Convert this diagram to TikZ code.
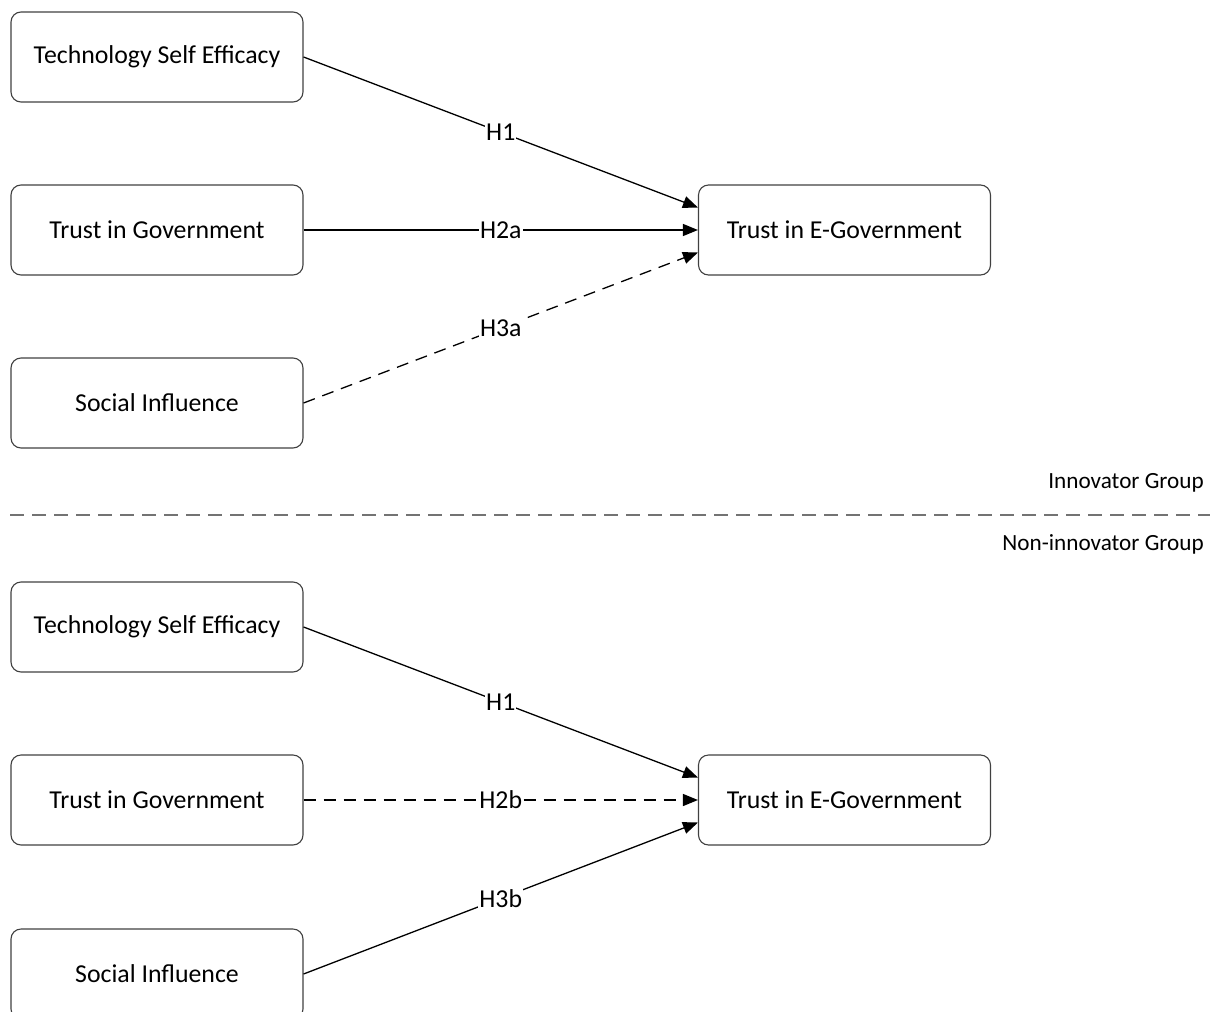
\documentclass[tikz,border=0pt]{standalone}
\usepackage{fontspec}
\setmainfont{Carlito}
\usetikzlibrary{arrows.meta,calc}
\begin{document}
\begin{tikzpicture}[x=1pt,y=-1pt,
  box/.style={draw=black!75,line width=1.1pt,rounded corners=10pt,minimum width=292pt,minimum height=90pt,align=center,inner sep=0pt,font=\fontsize{25.8}{30}\selectfont},
  lbl/.style={fill=white,inner sep=1pt,font=\fontsize{25.8}{30}\selectfont},
  grp/.style={anchor=east,inner sep=0pt,font=\fontsize{23.2}{28}\selectfont},
  link/.style={line width=1.3pt,-{Triangle[length=15pt,width=12pt]}},
  dsh/.style={dash pattern=on 12pt off 8pt}]
\useasboundingbox (0,0) rectangle (1213,1012);
\clip (0,0) rectangle (1213,1012);
% top group
\node[box] (tse1) at (157,57) {Technology Self Efficacy};
\node[box] (tig1) at (157,230) {Trust in Government};
\node[box] (si1) at (157,403) {Social Influence};
\node[box] (teg1) at (844.5,230) {Trust in E-Government};
\draw[link] (tse1.east) -- node[lbl]{H1} ($(teg1.west)+(0,-22.5)$);
\draw[link] (tig1.east) -- node[lbl]{H2a} (teg1.west);
\draw[link,dsh] (si1.east) -- node[lbl]{H3a} ($(teg1.west)+(0,22.5)$);
% separator
\coordinate (sepL) at (10,515);
\coordinate (sepR) at (1210,515);
\draw[black!55,line width=1.6pt,dash pattern=on 14pt off 8pt] (sepL) -- (sepR);
\node[grp] (ig) at (1204,483) {Innovator Group};
\node[grp] (nig) at (1204,544) {Non-innovator Group};
% bottom group
\node[box] (tse2) at (157,627) {Technology Self Efficacy};
\node[box] (tig2) at (157,800) {Trust in Government};
\node[box] (si2) at (157,974) {Social Influence};
\node[box] (teg2) at (844.5,800) {Trust in E-Government};
\draw[link] (tse2.east) -- node[lbl]{H1} ($(teg2.west)+(0,-22.5)$);
\draw[link,dsh] (tig2.east) -- node[lbl]{H2b} (teg2.west);
\draw[link] (si2.east) -- node[lbl]{H3b} ($(teg2.west)+(0,22.5)$);
\end{tikzpicture}
\end{document}
